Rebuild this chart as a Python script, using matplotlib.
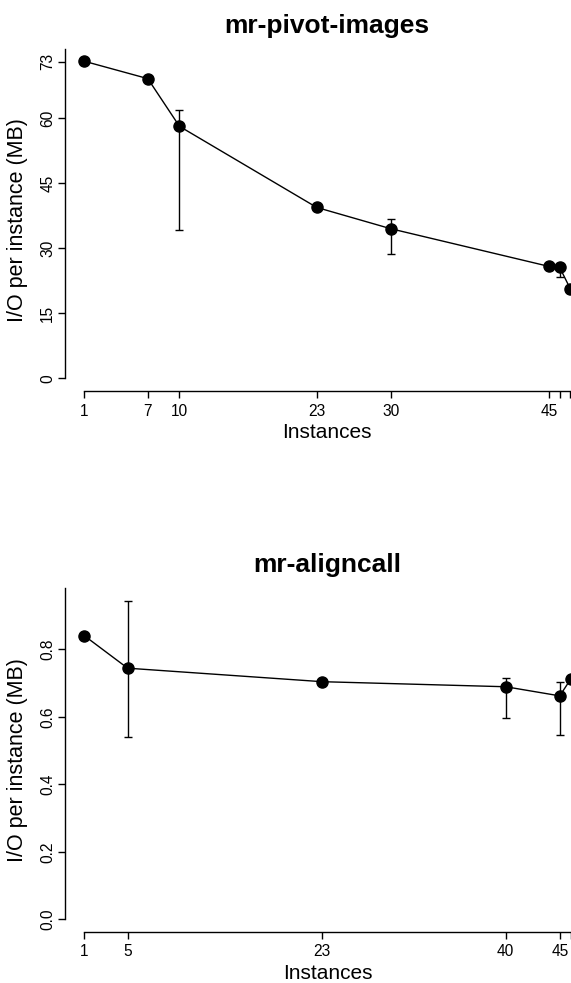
import matplotlib
matplotlib.use("Agg")
import matplotlib.pyplot as plt

plt.rcParams["font.family"] = ["Liberation Sans", "DejaVu Sans"]

# ── data ────────────────────────────────────────────────────────────────
pivot_x = [1, 7, 10, 23, 30, 45, 46, 47]
pivot_y = [73.1, 69.1, 58.1, 39.4, 34.5, 25.8, 25.6, 20.7]
pivot_lo = [73.1, 69.1, 34.3, 38.8, 28.6, 25.4, 23.3, 20.7]
pivot_hi = [73.1, 69.1, 61.8, 40.0, 36.7, 26.2, 26.2, 20.7]
pivot_xticklabels = ["1", "7", "10", "23", "30", "45", "", ""]
pivot_yticks = [0, 15, 30, 45, 60, 73]

align_x = [1, 5, 23, 40, 45, 46]
align_y = [0.840, 0.744, 0.704, 0.689, 0.662, 0.711]
align_lo = [0.840, 0.539, 0.704, 0.597, 0.546, 0.711]
align_hi = [0.840, 0.943, 0.704, 0.714, 0.704, 0.711]
align_xticklabels = ["1", "5", "23", "40", "45", ""]
align_yticks = [0.0, 0.2, 0.4, 0.6, 0.8]

W, H = 571, 983


def px_box(left, top, right, bottom):
    """axes rectangle from pixel edges (top-left origin)"""
    return [left / W, 1 - bottom / H, (right - left) / W, (bottom - top) / H]


def r_style_panel(ax, x, y, lo, hi, xticklabels, yticks, ytick_fmt, title,
                  title_pad):
    ax.plot(x, y, color="black", linewidth=1.0, zorder=2)
    err = [[yi - l for yi, l in zip(y, lo)], [h - yi for yi, h in zip(y, hi)]]
    ax.errorbar(x, y, yerr=err, fmt="none", ecolor="black", elinewidth=1.0,
                capsize=3.2, capthick=1.0, zorder=2)
    ax.plot(x, y, "o", color="black", markersize=8, zorder=3)

    # R's default 4% padding around the data range
    pad = 0.04
    xr = max(x) - min(x)
    ax.set_xlim(min(x) - pad * xr, max(x) + pad * xr)
    ytop = max(max(hi), max(yticks))
    ax.set_ylim(-pad * ytop, ytop * (1 + pad))

    for side in ("top", "right"):
        ax.spines[side].set_visible(False)
    ax.spines["bottom"].set_bounds(min(x), max(x))
    if yticks[-1] >= max(hi):
        ax.spines["left"].set_bounds(0, yticks[-1])
    else:
        ax.spines["left"].set_bounds(0, ytop * (1 + pad))
    for side in ("bottom", "left"):
        ax.spines[side].set_linewidth(1.0)

    ax.set_xticks(x)
    ax.set_xticklabels(xticklabels, fontsize=11.2)
    ax.set_yticks(yticks)
    ax.set_yticklabels([ytick_fmt(v) for v in yticks], fontsize=11.2,
                       rotation=90, va="center")
    ax.tick_params(axis="x", length=5, width=1.0, pad=4)
    ax.tick_params(axis="y", length=5, width=1.0, pad=2)

    ax.set_title(title, fontsize=19, fontweight="bold", pad=title_pad)
    ax.set_xlabel("Instances", fontsize=15)
    ax.set_ylabel("I/O per instance (MB)", fontsize=15.5)


fig = plt.figure(figsize=(W / 100, H / 100), dpi=100)

ax1 = fig.add_axes(px_box(65, 48.6, 589.6, 391.0))
r_style_panel(ax1, pivot_x, pivot_y, pivot_lo, pivot_hi, pivot_xticklabels,
              pivot_yticks, lambda v: f"{v:d}", "mr-pivot-images", 11)
ax1.xaxis.set_label_coords(0.5, -32 / 342.4)
ax1.yaxis.set_label_coords(-37 / 524.6, 0.5)

ax2 = fig.add_axes(px_box(65, 588.3, 590, 932.0))
r_style_panel(ax2, align_x, align_y, align_lo, align_hi, align_xticklabels,
              align_yticks, lambda v: f"{v:.1f}", "mr-aligncall", 12)
ax2.xaxis.set_label_coords(0.5, -32 / 343.7)
ax2.yaxis.set_label_coords(-37 / 525, 0.5)

fig.savefig("out.png", dpi=100)
